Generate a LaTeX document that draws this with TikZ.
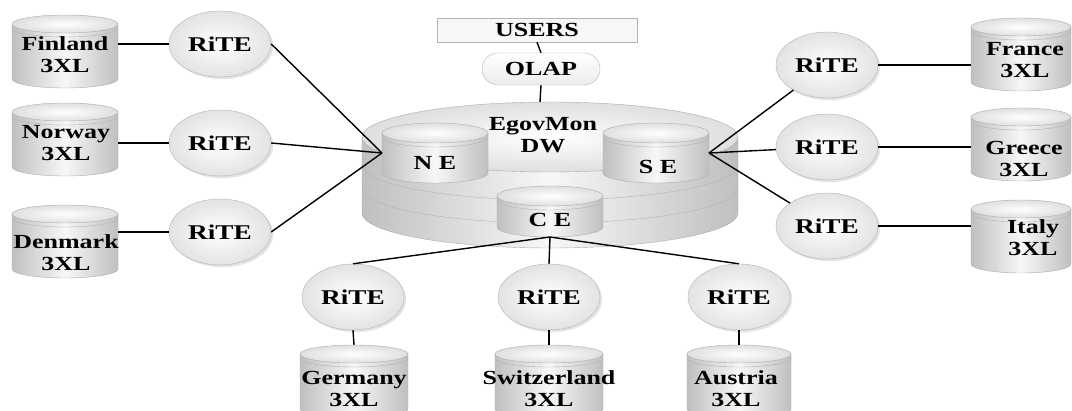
\documentclass[tikz,border=0pt]{standalone}
\usepackage{fontspec}
\usepackage{tikz}
\usetikzlibrary{shapes.geometric,shadows}
\newfontfamily\lblfont[FakeStretch=1.3]{Liberation Serif}

% cylinder: name, cx, top y, bottom y, rx, ry, text, text dx, text dy
\newcommand{\dbcyl}[9]{%
  \shadedraw[cylside] (#2-#5,#3) -- (#2-#5,#4) arc[start angle=180,end angle=0,x radius=#5,y radius=#6] -- (#2+#5,#3) -- cycle;
  \shadedraw[cyltop] (#2,#3) ellipse[x radius=#5,y radius=#6];
  \draw[cylrim] (#2-#5,#3+4) arc[start angle=180,end angle=0,x radius=#5,y radius=#6];
  \node[cylbox,minimum width={2*#5pt},minimum height={(#4-#3+2*#6)*1pt}] (#1) at (#2,{(#3+#4)/2}) {};
  \node[lbl] (#1txt) at ({#2+#8},{(#3+#4)/2+#9}) {#7};
}

\begin{document}
\begin{tikzpicture}[x=1pt,y=1pt,yscale=-1,xscale=1,
  cylside/.style={draw=gray!65,left color=gray!50,right color=gray!50,middle color=gray!6},
  cyltop/.style={draw=gray!65,inner color=white,outer color=gray!25},
  cylrim/.style={draw=gray!60},
  cylbox/.style={rectangle,inner sep=0pt,outer sep=0pt},
  lbl/.style={font=\lblfont\bfseries\fontsize{20}{22}\selectfont,align=center,inner sep=0pt},
  rite/.style={ellipse,draw=gray!60,shade,inner color=white,outer color=gray!22,
    minimum width=102pt,minimum height=66pt,inner sep=0pt,
    drop shadow={opacity=0.22},font=\lblfont\bfseries\fontsize{21}{23}\selectfont},
  link/.style={draw=black,line width=1.4pt}]

\useasboundingbox (0,0) rectangle (1072,411);

% users and olap
\node[draw=gray!60,fill=gray!6,minimum width=200pt,minimum height=24pt,inner sep=0pt,
  font=\lblfont\bfseries\fontsize{20}{22}\selectfont] (users) at (537,30) {USERS};
\node[draw=gray!60,shade,top color=white,bottom color=gray!15,rounded corners=16pt,
  minimum width=118pt,minimum height=32pt,inner sep=0pt,
  font=\lblfont\bfseries\fontsize{20}{22}\selectfont] (olap) at (541,69) {OLAP};

% EgovMon DW disk
\shadedraw[cylside] (362,137) -- (362,213) arc[start angle=180,end angle=0,x radius=188,y radius=35] -- (738,137) -- cycle;
\draw[cylrim] (362,165) arc[start angle=180,end angle=0,x radius=188,y radius=35];
\draw[cylrim] (362,188) arc[start angle=180,end angle=0,x radius=188,y radius=35];
\shadedraw[cyltop] (550,137) ellipse[x radius=188,y radius=35];
\coordinate (dwtop) at (540,102);
\node[lbl] (dw) at (543,135) {EgovMon\\DW};

\dbcyl{ne}{435}{133}{173}{53}{10}{N E}{0}{10}
\dbcyl{se}{656}{133}{173}{53}{10}{S E}{2}{14}
\dbcyl{ce}{550}{196}{227}{53}{10}{C E}{0}{8}

% country stores
\dbcyl{finland}{65}{24}{79}{53}{9}{Finland\\3XL}{0}{3}
\dbcyl{norway}{65}{112}{167}{53}{9}{Norway\\3XL}{1}{4}
\dbcyl{denmark}{65}{214}{269}{53}{9}{Denmark\\3XL}{1}{11}
\dbcyl{france}{1021}{27}{82}{50}{9}{France\\3XL}{4}{6}
\dbcyl{greece}{1021}{117}{172}{50}{9}{Greece\\3XL}{3}{14}
\dbcyl{italy}{1021}{209}{264}{50}{9}{Italy\\3XL}{12}{1}
\dbcyl{germany}{354}{354}{409}{54}{9}{Germany\\3XL}{0}{7}
\dbcyl{swiss}{549}{354}{409}{54}{9}{Switzerland\\3XL}{0}{7}
\dbcyl{austria}{739}{354}{409}{52}{9}{Austria\\3XL}{-3}{7}

% rite nodes
\node[rite] (riteFI) at (220,44) {RiTE};
\node[rite] (riteNO) at (220,143) {RiTE};
\node[rite] (riteDK) at (220,232) {RiTE};
\node[rite] (riteFR) at (827,65) {RiTE};
\node[rite] (riteGR) at (827,147) {RiTE};
\node[rite] (riteIT) at (827,226) {RiTE};
\node[rite] (riteDE) at (353,297) {RiTE};
\node[rite] (riteCH) at (549,297) {RiTE};
\node[rite] (riteAT) at (739,297) {RiTE};

% connectors
\draw[link] (users.south) -- (olap.north);
\draw[link] (olap.south) -- (dwtop);

\draw[link] (riteFI.west) -- (riteFI.west -| finland.east);
\draw[link] (riteNO.west) -- (riteNO.west -| norway.east);
\draw[link] (riteDK.west) -- (riteDK.west -| denmark.east);
\draw[link] (riteFI.east) -- (ne.west);
\draw[link] (riteNO.east) -- (ne.west);
\draw[link] (riteDK.east) -- (ne.west);

\draw[link] (riteFR.east) -- (riteFR.east -| france.west);
\draw[link] (riteGR.east) -- (riteGR.east -| greece.west);
\draw[link] (riteIT.east) -- (riteIT.east -| italy.west);
\draw[link] (riteFR) -- (se.east);
\draw[link] (riteGR) -- (se.east);
\draw[link] (riteIT) -- (se.east);

\draw[link] (ce.south) -- (riteDE.north);
\draw[link] (ce.south) -- (riteCH.north);
\draw[link] (ce.south) -- (riteAT.north);
\draw[link] (riteDE.south) -- (germany.north);
\draw[link] (riteCH.south) -- (swiss.north);
\draw[link] (riteAT.south) -- (austria.north);

\end{tikzpicture}
\end{document}
